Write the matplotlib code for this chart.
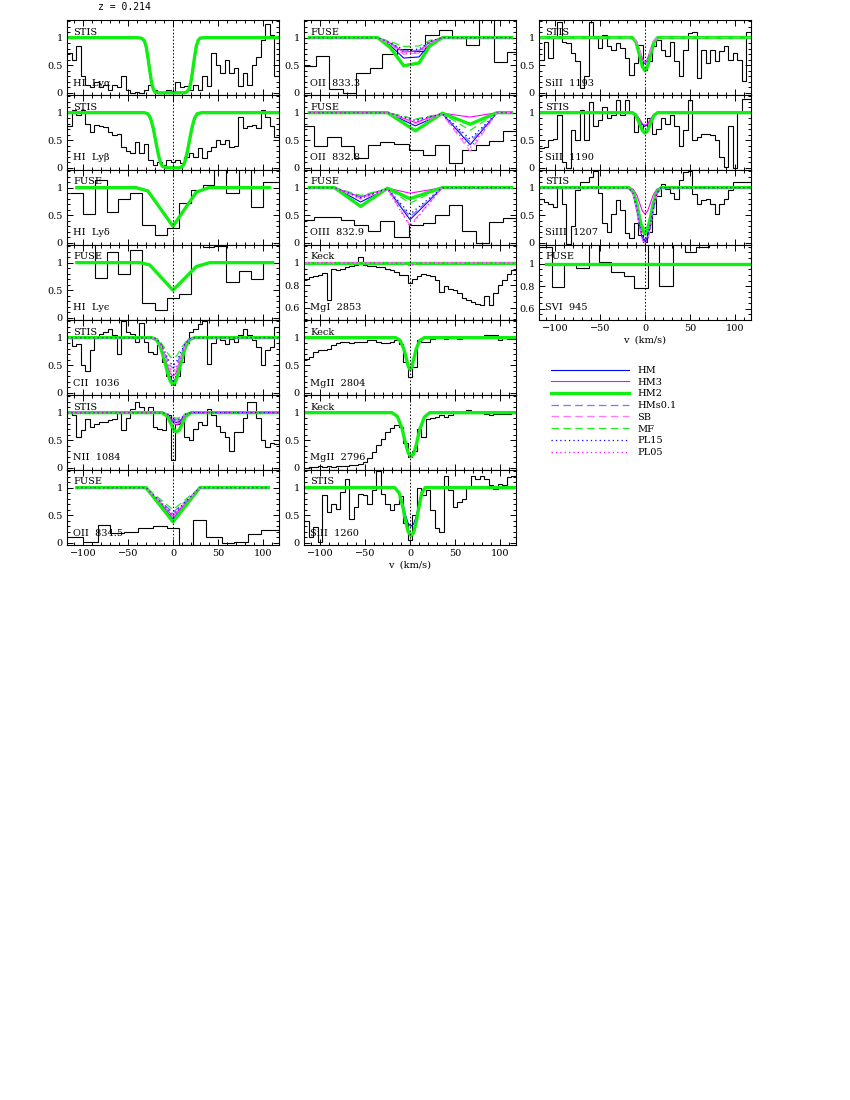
import numpy as np
import matplotlib
matplotlib.use("Agg")
import matplotlib.pyplot as plt
from matplotlib.ticker import MultipleLocator, FuncFormatter
from matplotlib.lines import Line2D

plt.rcParams["font.family"] = ["DejaVu Serif"]
plt.rcParams["font.size"] = 7

# bins de velocidade (km/s) dos espectros STIS / Keck, 5 km/s cada
v_fino = np.arange(-117.5, 118, 5)

# ---------------- coluna 1 ----------------
lya_flux = [0.72, 0.6, 0.84, 0.3, 0.15, 0.1, 0.2, 0.1, 0.15, 0.05,
            0.15, 0.1, 0.3, 0.05, 0.0, 0.02, 0.0, 0.05, 0.15, 0.05,
            0.0, 0.02, 0.05, 0.03, 0.2, 0.1, 0.12, 0.05, 0.15, 0.05,
            0.3, 0.12, 0.72, 0.5, 0.35, 0.6, 0.35, 0.45, 0.12, 0.35,
            0.15, 0.5, 0.65, 0.95, 1.25, 1.05, 0.3]
lya_mv = [-118, -40, -35, -32, -30, -28, -26, -24, -22, -20, -15, 0,
          12, 15, 18, 20, 22, 24, 26, 28, 30, 35, 118]
lya_hm2 = [1, 1, 0.99, 0.95, 0.85, 0.65, 0.42, 0.2, 0.07, 0.01, 0, 0,
           0, 0.01, 0.07, 0.2, 0.42, 0.65, 0.85, 0.95, 0.99, 1, 1]
lya_hm = [1, 1, 0.98, 0.92, 0.8, 0.58, 0.35, 0.15, 0.05, 0.01, 0, 0,
          0, 0.01, 0.05, 0.15, 0.35, 0.58, 0.8, 0.92, 0.98, 1, 1]

lyb_flux = [0.75, 1.05, 0.96, 1.05, 0.8, 0.65, 0.78, 0.75, 0.74, 0.65,
            0.6, 0.62, 0.38, 0.3, 0.26, 0.47, 0.26, 0.44, 0.14, 0.05,
            0.1, 0.05, 0.14, 0.1, 0.14, 0.08, 0.2, 0.26, 0.2, 0.35,
            0.17, 0.3, 0.38, 0.5, 0.44, 0.5, 0.38, 0.4, 0.93, 0.72,
            0.75, 0.78, 0.72, 1.05, 0.93, 0.75, 0.56]
lyb_mv = [-118, -32, -28, -25, -22, -20, -18, -16, -14, -12, -7, 0,
          7, 11, 13, 15, 17, 19, 21, 24, 27, 32, 118]
lyb_hm2 = [1, 1, 0.98, 0.9, 0.72, 0.55, 0.38, 0.22, 0.1, 0.03, 0, 0,
           0, 0.03, 0.1, 0.22, 0.38, 0.55, 0.72, 0.9, 0.98, 1, 1]
lyb_hm = [1, 1, 0.97, 0.87, 0.67, 0.5, 0.33, 0.18, 0.08, 0.02, 0, 0,
          0, 0.02, 0.08, 0.18, 0.33, 0.5, 0.67, 0.87, 0.97, 1, 1]

fuse_a = [-115, -100, -87, -74, -61, -48, -35, -20, -7, 7, 20, 33, 46,
          59, 74, 87, 100, 113, 118]
lyd_flux = [0.9, 0.53, 1.14, 0.55, 0.79, 0.91, 0.33, 0.15, 0.26, 0.73,
            0.95, 1.04, 1.35, 0.9, 1.4, 0.64, 1.1, 1.1]
lyd_mv = [-107, -41, -28, 0, 26, 40, 107]
lyd_hm2 = [1, 1, 0.94, 0.3, 0.92, 1, 1]
lyd_hm = [1, 1, 0.93, 0.29, 0.91, 1, 1]

lye_flux = [1.35, 1.35, 0.73, 1.2, 0.8, 1.23, 0.27, 0.15, 0.35, 0.44,
            1.35, 1.29, 1.3, 0.65, 0.85, 0.7, 1.0, 1.0]
lye_mv = [-107, -37, -26, 0, 26, 41, 111]
lye_hm2 = [1, 1, 0.96, 0.5, 0.93, 1, 1]

cii_flux = [1.0, 0.85, 0.89, 0.5, 0.4, 0.77, 1.0, 1.07, 1.1, 1.15,
            1.04, 0.7, 1.3, 1.1, 1.07, 0.92, 1.27, 0.92, 0.74, 0.7,
            0.86, 0.55, 0.3, 0.14, 0.3, 0.55, 0.9, 1.1, 1.16, 1.25,
            1.3, 0.53, 0.9, 1.0, 0.95, 0.89, 0.98, 0.92, 1.05, 1.15,
            1.04, 0.95, 0.83, 0.5, 0.77, 0.83, 1.2]
cii_mv = [-118, -24, -18, -14, -10, -6, -3, 0, 3, 6, 10, 14, 18, 24, 118]
cii_hm2 = [1, 1, 0.96, 0.83, 0.62, 0.36, 0.21, 0.15, 0.21, 0.36, 0.62, 0.83, 0.96, 1, 1]
cii_hm = [1, 1, 0.96, 0.84, 0.64, 0.4, 0.26, 0.2, 0.26, 0.4, 0.64, 0.84, 0.96, 1, 1]
cii_hm3 = [1, 1, 0.97, 0.86, 0.69, 0.48, 0.35, 0.3, 0.35, 0.48, 0.69, 0.86, 0.97, 1, 1]
cii_hms = [1, 1, 0.97, 0.89, 0.75, 0.59, 0.49, 0.45, 0.49, 0.59, 0.75, 0.89, 0.97, 1, 1]
cii_sb = [1, 1, 0.97, 0.87, 0.71, 0.51, 0.4, 0.35, 0.4, 0.51, 0.71, 0.87, 0.97, 1, 1]
cii_mf = [1, 1, 0.98, 0.92, 0.83, 0.72, 0.65, 0.62, 0.65, 0.72, 0.83, 0.92, 0.98, 1, 1]
cii_pl15 = [1, 1, 0.98, 0.9, 0.78, 0.63, 0.54, 0.5, 0.54, 0.63, 0.78, 0.9, 0.98, 1, 1]
cii_pl05 = [1, 1, 0.97, 0.88, 0.73, 0.55, 0.44, 0.4, 0.44, 0.55, 0.73, 0.88, 0.97, 1, 1]

nii_flux = [1.02, 0.95, 0.56, 0.68, 0.89, 0.74, 0.8, 0.83, 0.83, 0.86,
            0.89, 1.0, 0.68, 0.9, 1.07, 1.19, 1.1, 1.0, 1.1, 0.74,
            0.71, 0.68, 0.95, 0.14, 0.8, 0.83, 0.56, 0.5, 0.71, 0.83,
            0.78, 1.07, 0.95, 0.75, 0.65, 0.55, 0.3, 0.65, 0.65, 0.9,
            1.2, 1.2, 0.9, 0.5, 0.38, 0.45, 0.44]
nii_mv = [-118, -12, -6, -2, 1, 4, 7, 10, 14, 20, 118]
nii_hm2 = [1, 1, 0.93, 0.79, 0.685, 0.65, 0.685, 0.79, 0.93, 1, 1]
nii_hm = [1, 1, 0.964, 0.892, 0.838, 0.82, 0.838, 0.892, 0.964, 1, 1]
nii_hm3 = [1, 1, 0.956, 0.868, 0.802, 0.78, 0.802, 0.868, 0.956, 1, 1]
nii_hms = [1, 1, 0.976, 0.928, 0.892, 0.88, 0.892, 0.928, 0.976, 1, 1]
nii_sb = [1, 1, 0.97, 0.91, 0.865, 0.85, 0.865, 0.91, 0.97, 1, 1]
nii_mf = [1, 1, 0.98, 0.94, 0.91, 0.9, 0.91, 0.94, 0.98, 1, 1]
nii_pl15 = [1, 1, 0.972, 0.916, 0.874, 0.86, 0.874, 0.916, 0.972, 1, 1]

oii8345_a = [-118, -100, -83, -70, -54, -39, -22, -7, 7, 22, 37, 54, 68, 83, 98, 118]
oii8345_flux = [0.11, 0.02, 0.32, 0.17, 0.2, 0.26, 0.3, 0.26, -0.04, 0.42,
                0.11, 0.0, 0.02, 0.16, 0.23]
oii8345_mv = [-107, -30, -15, 0, 15, 30, 106]
oii8345_hm2 = [1, 1, 0.69, 0.38, 0.69, 1, 1]
oii8345_hm = [1, 1, 0.72, 0.43, 0.72, 1, 1]
oii8345_hm3 = [1, 1, 0.74, 0.48, 0.74, 1, 1]
oii8345_hms = [1, 1, 0.77, 0.55, 0.77, 1, 1]
oii8345_sb = [1, 1, 0.75, 0.5, 0.75, 1, 1]
oii8345_mf = [1, 1, 0.8, 0.6, 0.8, 1, 1]
oii8345_pl15 = [1, 1, 0.76, 0.52, 0.76, 1, 1]
oii8345_pl05 = [1, 1, 0.74, 0.47, 0.74, 1, 1]

# ---------------- coluna 2 ----------------
oii8333_a = [-118, -105, -90, -75, -60, -45, -31, -14, 1, 17, 32, 47, 62, 77, 93, 108, 118]
oii8333_flux = [0.48, 0.66, 0.06, 0.0, 0.36, 0.45, 0.71, 0.79, 0.75, 1.05,
                1.14, 0.99, 0.86, 1.35, 0.56, 0.74]
oii8333_mv = [-112, -36, -22, -7, 10, 22, 36, 113]
oii8333_hm2 = [1, 1, 0.82, 0.49, 0.54, 0.85, 1, 1]
oii8333_hm = [1, 1, 0.86, 0.63, 0.65, 0.88, 1, 1]
oii8333_hm3 = [1, 1, 0.9, 0.74, 0.76, 0.92, 1, 1]
oii8333_hms = [1, 1, 0.9, 0.76, 0.77, 0.92, 1, 1]
oii8333_sb = [1, 1, 0.88, 0.7, 0.72, 0.9, 1, 1]
oii8333_mf = [1, 1, 0.93, 0.84, 0.85, 0.95, 1, 1]
oii8333_pl15 = [1, 1, 0.91, 0.78, 0.79, 0.93, 1, 1]
oii8333_pl05 = [1, 1, 0.89, 0.72, 0.73, 0.91, 1, 1]

fuse_b = [-118, -107, -92, -77, -62, -47, -33, -18, -1, 14, 28, 43, 58, 73, 88, 103, 118]
oii8328_flux = [0.76, 0.39, 0.55, 0.39, 0.18, 0.42, 0.47, 0.44, 0.32, 0.23,
                0.41, 0.09, 0.32, 0.41, 0.48, 0.67]
oii8328_mv = [-112, -25, 6, 36, 67, 97, 113]
oii8328_hm2 = [1, 1, 0.67, 0.99, 0.79, 1, 1]
oii8328_hm = [1, 1, 0.76, 0.98, 0.42, 1, 1]
oii8328_hm3 = [1, 1, 0.82, 0.99, 0.92, 1, 1]
oii8328_hms = [1, 1, 0.88, 0.98, 0.47, 1, 1]
oii8328_sb = [1, 1, 0.8, 0.97, 0.3, 1, 1]
oii8328_mf = [1, 1, 0.88, 0.98, 0.68, 1, 1]
oii8328_pl15 = [1, 1, 0.86, 0.98, 0.52, 1, 1]
oii8328_pl05 = [1, 1, 0.84, 0.97, 0.36, 1, 1]

oiii_flux = [0.41, 0.47, 0.47, 0.42, 0.32, 0.22, 0.4, 0.1, 0.32, 0.35,
             0.5, 0.68, 0.22, 0.0, 0.38, 0.45]
oiii_mv = [-112, -84, -55, -25, 0, 36, 113]
oiii_hm2 = [1, 1, 0.66, 0.99, 0.8, 1, 1]
oiii_hm = [1, 1, 0.74, 0.98, 0.42, 1, 1]
oiii_hm3 = [1, 1, 0.83, 0.99, 0.9, 1, 1]
oiii_hms = [1, 1, 0.84, 0.98, 0.47, 1, 1]
oiii_sb = [1, 1, 0.8, 0.97, 0.32, 1, 1]
oiii_mf = [1, 1, 0.86, 0.98, 0.72, 1, 1]
oiii_pl15 = [1, 1, 0.82, 0.98, 0.52, 1, 1]
oiii_pl05 = [1, 1, 0.8, 0.97, 0.3, 1, 1]

mgi_flux = [0.86, 0.875, 0.88, 0.89, 0.91, 0.67, 0.95, 0.94, 0.95, 0.96,
            0.97, 0.98, 1.05, 0.985, 0.97, 0.97, 0.965, 0.96, 0.95, 0.94,
            0.92, 0.89, 0.89, 0.82, 0.86, 0.88, 0.9, 0.89, 0.88, 0.85,
            0.74, 0.79, 0.77, 0.76, 0.73, 0.69, 0.67, 0.65, 0.63, 0.62,
            0.7, 0.62, 0.73, 0.8, 0.85, 0.9, 0.94]
mgi_mv = [-118, -8, -4, 0, 4, 8, 118]
mgi_hm2 = [1, 1, 1, 1, 1, 1, 1]
mgi_sb = [1, 1, 0.99, 0.98, 0.99, 1, 1]
mgi_pl05 = [1, 1, 0.985, 0.97, 0.985, 1, 1]

mgii2804_flux = [0.62, 0.65, 0.74, 0.77, 0.78, 0.8, 0.86, 0.9, 0.93, 0.93,
                 0.9, 0.93, 0.93, 0.92, 0.95, 0.95, 0.93, 0.9, 0.9, 0.92,
                 0.95, 0.89, 0.56, 0.29, 0.47, 0.95, 0.92, 0.93, 0.98, 0.99,
                 0.99, 0.98, 1.0, 1.0, 0.98, 1.02, 1.02, 1.02, 1.0, 1.0,
                 1.05, 1.04, 1.04, 0.96, 1.0, 0.98, 0.98]
mgii2804_mv = [-118, -16, -11, -7, -4, -2, 0, 2, 4, 7, 11, 16, 118]
mgii2804_hm2 = [1, 1, 0.95, 0.8, 0.62, 0.48, 0.42, 0.46, 0.6, 0.8, 0.95, 1, 1]

mgii2796_flux = [0.0, 0.02, 0.01, 0.03, 0.02, 0.03, 0.02, 0.04, 0.03, 0.04,
                 0.05, 0.05, 0.06, 0.1, 0.17, 0.29, 0.41, 0.52, 0.65, 0.72,
                 0.78, 0.74, 0.45, 0.2, 0.3, 0.71, 0.55, 0.89, 0.9, 0.92,
                 0.95, 0.93, 0.96, 0.99, 1.02, 0.99, 1.04, 1.0, 1.0, 1.0,
                 0.98, 0.96, 0.97, 0.98, 0.97, 0.97, 1.0]
mgii2796_mv = [-118, -20, -14, -9, -5, -2, 1, 4, 7, 11, 16, 22, 118]
mgii2796_hm2 = [1, 1, 0.93, 0.72, 0.45, 0.27, 0.2, 0.25, 0.42, 0.7, 0.92, 1, 1]

sii1260_flux = [0.4, 0.11, 0.29, 0.02, 0.86, 0.56, 0.71, 0.62, 0.92, 1.16,
                0.44, 0.65, 0.88, 0.86, 0.71, 0.95, 1.3, 0.89, 0.7, 0.59,
                0.71, 0.85, 0.35, 0.05, 0.5, 1.0, 0.86, 0.95, 0.59, 0.26,
                0.2, 1.22, 0.95, 0.65, 0.74, 0.8, 1.0, 1.22, 1.15, 1.22,
                1.16, 1.04, 0.98, 1.07, 1.05, 1.19, 1.22]
sii1260_mv = [-118, -17, -12, -8, -5, -2, 1, 4, 7, 10, 13, 17, 118]
sii1260_hm2 = [1, 1, 0.9, 0.65, 0.4, 0.2, 0.13, 0.18, 0.38, 0.65, 0.9, 1, 1]
sii1260_hm = [1, 1, 0.92, 0.72, 0.5, 0.35, 0.3, 0.34, 0.48, 0.72, 0.92, 1, 1]

# ---------------- coluna 3 ----------------
sii1193_flux = [0.6, 0.93, 0.63, 0.99, 1.29, 0.93, 0.9, 0.72, 0.57, 0.09,
                0.3, 1.29, 1.02, 0.81, 1.05, 0.84, 0.78, 0.9, 0.81, 0.63,
                0.33, 0.54, 0.87, 0.42, 0.57, 0.84, 0.96, 0.78, 0.66, 0.93,
                0.57, 0.3, 0.78, 1.08, 1.1, 0.27, 0.78, 0.54, 0.78, 0.57,
                0.75, 0.84, 0.6, 0.72, 0.6, 0.21, 1.1]
sii_mv = [-118, -14, -10, -6, -3, 0, 3, 6, 10, 14, 118]
sii1193_hm2 = [1, 1, 0.92, 0.68, 0.48, 0.4, 0.48, 0.68, 0.92, 1, 1]
sii1193_hm = [1, 1, 0.94, 0.76, 0.6, 0.53, 0.6, 0.76, 0.94, 1, 1]
sii1193_hm3 = [1, 1, 0.95, 0.78, 0.62, 0.56, 0.62, 0.78, 0.95, 1, 1]
sii1193_sb = [1, 1, 0.95, 0.77, 0.62, 0.55, 0.62, 0.77, 0.95, 1, 1]

sii1190_flux = [0.35, 0.38, 0.5, 0.53, 0.96, 0.11, 0.0, 0.68, 0.5, 1.05,
                0.5, 1.2, 0.75, 0.87, 1.1, 0.9, 0.96, 1.23, 0.95, 1.23,
                1.0, 0.65, 0.8, 0.65, 0.9, 0.62, 0.7, 0.9, 0.8, 0.96,
                0.75, 0.4, 0.68, 1.23, 0.5, 0.56, 0.62, 0.62, 0.6, 0.5,
                0.2, 0.02, 0.75, 0.0, 1.0, 1.25, 1.25]
sii1190_hm2 = [1, 1, 0.95, 0.8, 0.68, 0.63, 0.68, 0.8, 0.95, 1, 1]
sii1190_hm = [1, 1, 0.97, 0.87, 0.79, 0.75, 0.79, 0.87, 0.97, 1, 1]
sii1190_hm3 = [1, 1, 0.97, 0.88, 0.8, 0.77, 0.8, 0.88, 0.97, 1, 1]

siiii_flux = [0.8, 0.74, 0.71, 0.65, 1.0, 0.71, -0.03, 0.3, 0.95, 1.1,
              1.1, 1.2, 1.3, 0.9, 0.35, 0.2, 0.53, 0.77, 0.6, 0.17,
              0.08, 0.35, 0.14, 0.02, 0.2, 0.53, 0.85, 1.07, 0.98, 0.9,
              0.8, 1.13, 1.28, 1.3, 0.89, 0.7, 0.77, 0.8, 0.7, 0.53,
              0.7, 0.8, 0.95, 1.1, 1.1, 1.1, 1.1]
siiii_mv = [-118, -18, -13, -9, -6, -3, 0, 3, 6, 9, 13, 18, 118]
siiii_hm2 = [1, 1, 0.92, 0.7, 0.45, 0.25, 0.16, 0.25, 0.45, 0.7, 0.92, 1, 1]
siiii_hm = [1, 1, 0.88, 0.58, 0.3, 0.08, 0.02, 0.08, 0.3, 0.58, 0.88, 1, 1]
siiii_hm3 = [1, 1, 0.97, 0.86, 0.72, 0.58, 0.52, 0.58, 0.72, 0.86, 0.97, 1, 1]
siiii_hms = [1, 1, 0.9, 0.62, 0.34, 0.12, 0.05, 0.12, 0.34, 0.62, 0.9, 1, 1]
siiii_sb = [1, 1, 0.87, 0.55, 0.26, 0.05, 0.0, 0.05, 0.26, 0.55, 0.87, 1, 1]
siiii_mf = [1, 1, 0.93, 0.74, 0.5, 0.32, 0.25, 0.32, 0.5, 0.74, 0.93, 1, 1]
siiii_pl15 = [1, 1, 0.89, 0.6, 0.32, 0.1, 0.04, 0.1, 0.32, 0.6, 0.89, 1, 1]
siiii_pl05 = [1, 1, 0.88, 0.57, 0.28, 0.06, 0.01, 0.06, 0.28, 0.57, 0.88, 1, 1]

svi_a = [-118, -103, -90, -77, -62, -51, -38, -23, -12, 3, 16, 31, 44, 57,
         71, 84, 97, 110, 118]
svi_flux = [1.15, 0.79, 1.0, 0.96, 1.2, 1.01, 0.93, 0.89, 0.785, 1.2,
            0.8, 1.2, 1.1, 1.15, 1.2, 1.2, 1.2, 1.2]
svi_mv = [-110, 118]
svi_hm2 = [1, 1]

# estilos dos modelos (ordem da legenda)
modelos = ["HM", "HM3", "HM2", "HMs0.1", "SB", "MF", "PL15", "PL05"]
estilos = {
    "HM": dict(color="#0000ff", lw=0.8, ls="-"),
    "HM3": dict(color="#ff00ff", lw=0.8, ls="-"),
    "HM2": dict(color="#11ee11", lw=2.4, ls="-"),
    "HMs0.1": dict(color="#7777ff", lw=0.9, ls=(0, (6, 3.5))),
    "SB": dict(color="#ff77ff", lw=0.9, ls=(0, (6, 3.5))),
    "MF": dict(color="#22ee22", lw=0.9, ls=(0, (6, 3.5))),
    "PL15": dict(color="#0000ff", lw=0.9, ls=(0, (1, 2.5))),
    "PL05": dict(color="#ff00ff", lw=0.9, ls=(0, (1, 2.5))),
}

lim_std = (-0.04, 1.32)
lim_mg = (0.49, 1.16)

paineis = [
    (0, 0, "STIS", "HI  Lyα", v_fino, lya_flux, lim_std,
     {"HM": (lya_mv, lya_hm), "HM3": (lya_mv, lya_hm), "HM2": (lya_mv, lya_hm2)}),
    (0, 1, "STIS", "HI  Lyβ", v_fino, lyb_flux, lim_std,
     {"HM": (lyb_mv, lyb_hm), "HM3": (lyb_mv, lyb_hm), "HM2": (lyb_mv, lyb_hm2)}),
    (0, 2, "FUSE", "HI  Lyδ", fuse_a, lyd_flux, lim_std,
     {"HM": (lyd_mv, lyd_hm), "HM2": (lyd_mv, lyd_hm2)}),
    (0, 3, "FUSE", "HI  Lyϵ", fuse_a, lye_flux, lim_std,
     {"HM2": (lye_mv, lye_hm2)}),
    (0, 4, "STIS", "CII  1036", v_fino, cii_flux, lim_std,
     {"HM": (cii_mv, cii_hm), "HM3": (cii_mv, cii_hm3), "HM2": (cii_mv, cii_hm2),
      "HMs0.1": (cii_mv, cii_hms), "SB": (cii_mv, cii_sb), "MF": (cii_mv, cii_mf),
      "PL15": (cii_mv, cii_pl15), "PL05": (cii_mv, cii_pl05)}),
    (0, 5, "STIS", "NII  1084", v_fino, nii_flux, lim_std,
     {"HM": (nii_mv, nii_hm), "HM3": (nii_mv, nii_hm3), "HM2": (nii_mv, nii_hm2),
      "HMs0.1": (nii_mv, nii_hms), "SB": (nii_mv, nii_sb), "MF": (nii_mv, nii_mf),
      "PL15": (nii_mv, nii_pl15), "PL05": (nii_mv, nii_hm)}),
    (0, 6, "FUSE", "OII  834.5", oii8345_a, oii8345_flux, lim_std,
     {"HM": (oii8345_mv, oii8345_hm), "HM3": (oii8345_mv, oii8345_hm3),
      "HM2": (oii8345_mv, oii8345_hm2), "HMs0.1": (oii8345_mv, oii8345_hms),
      "SB": (oii8345_mv, oii8345_sb), "MF": (oii8345_mv, oii8345_mf),
      "PL15": (oii8345_mv, oii8345_pl15), "PL05": (oii8345_mv, oii8345_pl05)}),
    (1, 0, "FUSE", "OII  833.3", oii8333_a, oii8333_flux, lim_std,
     {"HM": (oii8333_mv, oii8333_hm), "HM3": (oii8333_mv, oii8333_hm3),
      "HM2": (oii8333_mv, oii8333_hm2), "HMs0.1": (oii8333_mv, oii8333_hms),
      "SB": (oii8333_mv, oii8333_sb), "MF": (oii8333_mv, oii8333_mf),
      "PL15": (oii8333_mv, oii8333_pl15), "PL05": (oii8333_mv, oii8333_pl05)}),
    (1, 1, "FUSE", "OII  832.8", fuse_b, oii8328_flux, lim_std,
     {"HM": (oii8328_mv, oii8328_hm), "HM3": (oii8328_mv, oii8328_hm3),
      "HM2": (oii8328_mv, oii8328_hm2), "HMs0.1": (oii8328_mv, oii8328_hms),
      "SB": (oii8328_mv, oii8328_sb), "MF": (oii8328_mv, oii8328_mf),
      "PL15": (oii8328_mv, oii8328_pl15), "PL05": (oii8328_mv, oii8328_pl05)}),
    (1, 2, "FUSE", "OIII  832.9", fuse_b, oiii_flux, lim_std,
     {"HM": (oiii_mv, oiii_hm), "HM3": (oiii_mv, oiii_hm3),
      "HM2": (oiii_mv, oiii_hm2), "HMs0.1": (oiii_mv, oiii_hms),
      "SB": (oiii_mv, oiii_sb), "MF": (oiii_mv, oiii_mf),
      "PL15": (oiii_mv, oiii_pl15), "PL05": (oiii_mv, oiii_pl05)}),
    (1, 3, "Keck", "MgI  2853", v_fino, mgi_flux, lim_mg,
     {"HM2": (mgi_mv, mgi_hm2), "SB": (mgi_mv, mgi_sb), "PL05": (mgi_mv, mgi_pl05)}),
    (1, 4, "Keck", "MgII  2804", v_fino, mgii2804_flux, lim_std,
     {"HM2": (mgii2804_mv, mgii2804_hm2)}),
    (1, 5, "Keck", "MgII  2796", v_fino, mgii2796_flux, lim_std,
     {"HM2": (mgii2796_mv, mgii2796_hm2)}),
    (1, 6, "STIS", "SiII  1260", v_fino, sii1260_flux, lim_std,
     {"HM": (sii1260_mv, sii1260_hm), "HM2": (sii1260_mv, sii1260_hm2)}),
    (2, 0, "STIS", "SiII  1193", v_fino, sii1193_flux, lim_std,
     {"HM": (sii_mv, sii1193_hm), "HM3": (sii_mv, sii1193_hm3),
      "HM2": (sii_mv, sii1193_hm2), "SB": (sii_mv, sii1193_sb)}),
    (2, 1, "STIS", "SiII  1190", v_fino, sii1190_flux, lim_std,
     {"HM": (sii_mv, sii1190_hm), "HM3": (sii_mv, sii1190_hm3),
      "HM2": (sii_mv, sii1190_hm2)}),
    (2, 2, "STIS", "SiIII  1207", v_fino, siiii_flux, lim_std,
     {"HM": (siiii_mv, siiii_hm), "HM3": (siiii_mv, siiii_hm3),
      "HM2": (siiii_mv, siiii_hm2), "HMs0.1": (siiii_mv, siiii_hms),
      "SB": (siiii_mv, siiii_sb), "MF": (siiii_mv, siiii_mf),
      "PL15": (siiii_mv, siiii_pl15), "PL05": (siiii_mv, siiii_pl05)}),
    (2, 3, "FUSE", "SVI  945", svi_a, svi_flux, (0.5, 1.165),
     {"HM2": (svi_mv, svi_hm2)}),
]

ultima_linha = {0: 6, 1: 6, 2: 3}
col_x = [67, 304, 539]
W, H = 850, 1100

fig = plt.figure(figsize=(8.5, 11), dpi=100)

for col, lin, inst, ion, bordas, fluxo, ylim, mods in paineis:
    ax = fig.add_axes([col_x[col] / W, 1 - (95 + 75 * lin) / H, 212 / W, 75 / H])
    ax.stairs(fluxo, bordas, color="black", lw=0.8, baseline=None)
    for nome in modelos:
        if nome in mods:
            mv, mf = mods[nome]
            ax.plot(mv, mf, **estilos[nome])
    ax.axvline(0, color="black", lw=0.7, ls=(0, (1.5, 2)))
    ax.set_xlim(-118, 118)
    ax.set_ylim(*ylim)
    ax.xaxis.set_major_locator(MultipleLocator(50))
    ax.xaxis.set_minor_locator(MultipleLocator(10))
    if ylim == lim_std:
        ax.yaxis.set_major_locator(MultipleLocator(0.5))
        ax.yaxis.set_minor_locator(MultipleLocator(0.1))
    else:
        ax.yaxis.set_major_locator(MultipleLocator(0.2))
        ax.yaxis.set_minor_locator(MultipleLocator(0.05))
    ax.yaxis.set_major_formatter(FuncFormatter(lambda y, p: f"{y:g}"))
    ax.tick_params(which="both", direction="in", top=True, right=True,
                   labelsize=7, pad=3, width=0.7)
    ax.tick_params(which="major", length=4.5)
    ax.tick_params(which="minor", length=2.2)
    for s in ax.spines.values():
        s.set_linewidth(0.8)
    if lin != ultima_linha[col]:
        ax.tick_params(labelbottom=False)
    elif col > 0:
        ax.set_xlabel("v  (km/s)", fontsize=7, labelpad=2)
    ax.text(0.03, 0.84, inst, transform=ax.transAxes, fontsize=7, va="center")
    ax.text(0.03, 0.16, ion, transform=ax.transAxes, fontsize=7, va="center")

fig.text(98 / W, 1 - 7 / H, "z = 0.214", fontsize=7, va="center",
         family="DejaVu Sans Mono")

alcas = [Line2D([], [], **estilos[n]) for n in modelos]
fig.legend(alcas, modelos, loc="upper left", bbox_to_anchor=(551 / W, 1 - 366 / H),
           frameon=False, handlelength=8, handletextpad=0.9, labelspacing=0.28,
           borderpad=0, borderaxespad=0, fontsize=7)

fig.savefig("out.png", dpi=100)
